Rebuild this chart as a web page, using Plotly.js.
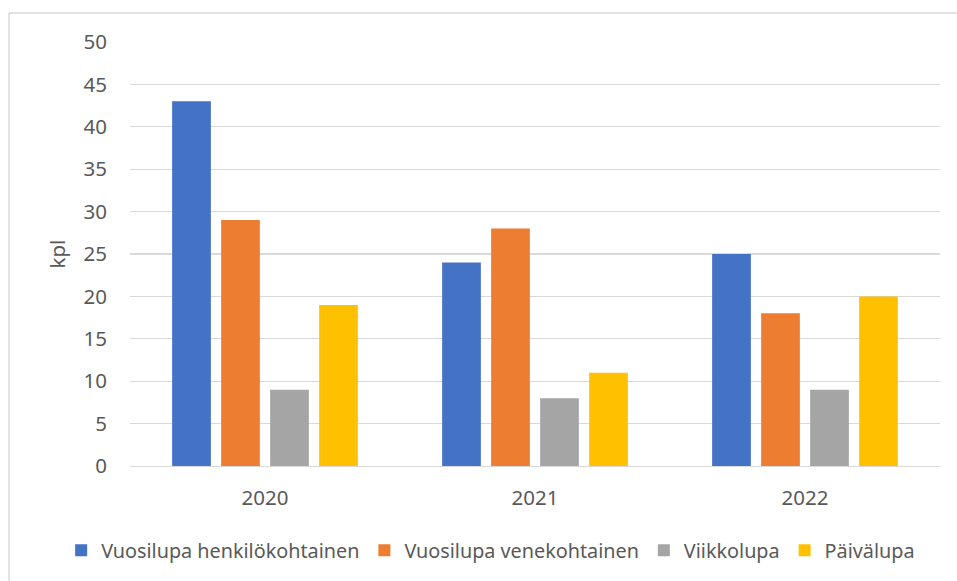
<!DOCTYPE html>
<html>
<head>
<meta charset="utf-8">
<script src="https://cdn.plot.ly/plotly-3.0.1.min.js"></script>
<style>html,body{margin:0;padding:0;background:#fff;}#chart{width:957px;height:581px;}</style>
</head>
<body>
<div id="chart"></div>
<script>
const years = ['2020', '2021', '2022'];
const seriesNames = ['Vuosilupa henkilökohtainen', 'Vuosilupa venekohtainen', 'Viikkolupa', 'Päivälupa'];
const henkilokohtainen = [43, 24, 25];
const venekohtainen = [29, 28, 18];
const viikkolupa = [9, 8, 9];
const paivalupa = [19, 11, 20];
const colors = ['#4472C4', '#ED7D31', '#A5A5A5', '#FFC000'];
const yTicks = [0, 5, 10, 15, 20, 25, 30, 35, 40, 45, 50];

const FONT = 'Noto Sans, Open Sans, sans-serif';
const TXT = '#595959';
const values = [henkilokohtainen, venekohtainen, viikkolupa, paivalupa];
const data = values.map((v, i) => ({
  type: 'bar', x: years, y: v, name: seriesNames[i],
  marker: {color: colors[i], line: {width: 0}}, hoverinfo: 'none'
}));

const layout = {
  width: 957, height: 581,
  margin: {l: 130, r: 17, t: 42, b: 115, autoexpand: false},
  paper_bgcolor: '#fff', plot_bgcolor: '#fff',
  font: {family: FONT, color: TXT, size: 20.5},
  barmode: 'group', bargap: 0.274, bargroupgap: 0.21,
  showlegend: true,
  legend: {orientation: 'h', x: -0.085, xanchor: 'left', y: -0.199, yanchor: 'middle',
           font: {family: FONT, size: 19.8, color: TXT}, traceorder: 'normal', itemwidth: 30},
  xaxis: {type: 'category', showgrid: false, zeroline: false, showline: true, linecolor: '#D9D9D9', linewidth: 1.3,
          ticks: '', tickfont: {size: 20.5}, ticklabelstandoff: 13},
  yaxis: {range: [0, 50], tickvals: yTicks, ticktext: yTicks.map(String), showgrid: true, gridcolor: '#D9D9D9', gridwidth: 1.3,
          zeroline: false, showline: false, ticks: '', tickfont: {size: 20.5}, ticklabelstandoff: 22,
          title: {text: 'kpl', font: {size: 20.5}, standoff: 12}},
  shapes: [
    {type: 'line', xref: 'paper', yref: 'paper', x0: -0.1494, x1: -0.1494, y0: 1.0684, y1: -0.4, line: {color: '#D9D9D9', width: 1.5}},
    {type: 'line', xref: 'paper', yref: 'paper', x0: -0.1494, x1: 1.1, y0: 1.0684, y1: 1.0684, line: {color: '#D9D9D9', width: 1.5}}
  ]
};
Plotly.newPlot('chart', data, layout, {staticPlot: true, displayModeBar: false});
</script>
</body>
</html>
